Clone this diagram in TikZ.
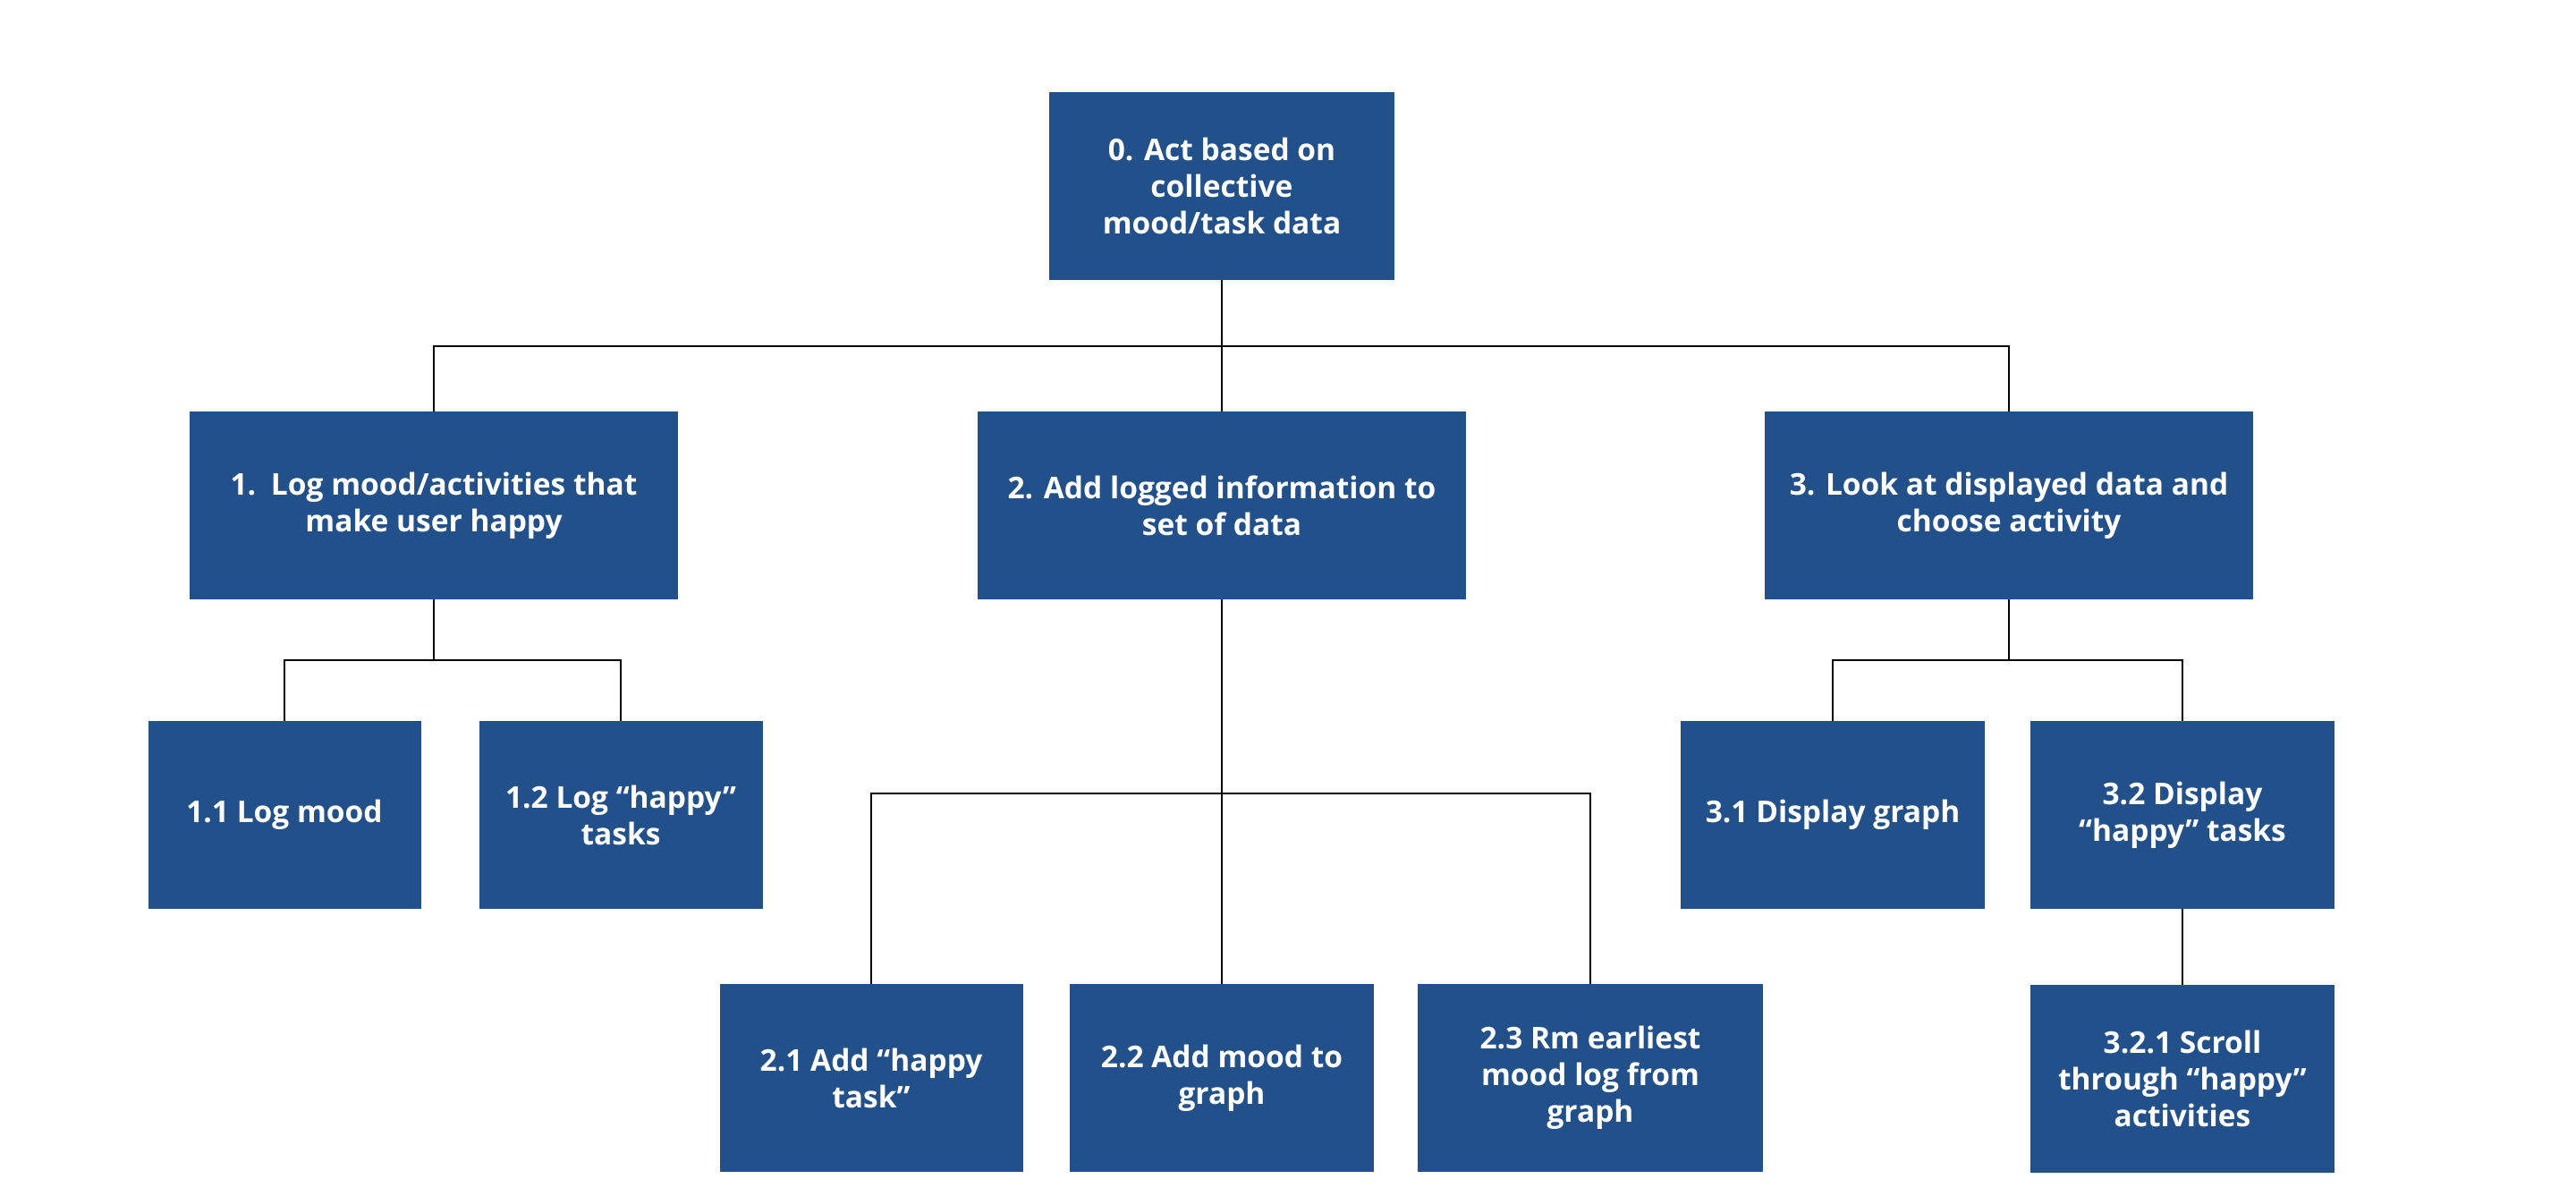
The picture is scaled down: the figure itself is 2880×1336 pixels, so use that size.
\documentclass[tikz,border=0pt]{standalone}
\usepackage{fontspec}
\setmainfont{Open Sans}
\definecolor{boxblue}{HTML}{22508A}
\begin{document}
\begin{tikzpicture}[x=1pt,y=-1pt,
  box/.style={fill=boxblue, draw=none, text=white, align=center, inner sep=0pt,
    font=\bfseries\fontsize{33.5}{41}\selectfont, minimum height=210pt},
  conn/.style={draw=black, line width=2.5pt}]
\useasboundingbox (0,0) rectangle (2880,1336);
% level 0
\node[box, minimum width=386pt] (n0) at (1366,208) {0. Act based on\\collective\\mood/task data};
% level 1
\node[box, minimum width=546pt] (n1) at (485,565) {1.\enspace Log mood/activities that\\make user happy};
\node[box, minimum width=546pt] (n2) at (1366,565) {2. Add logged information to\\set of data};
\node[box, minimum width=546pt] (n3) at (2246,565) {3. Look at displayed data and\\choose activity};
% level 2
\node[box, minimum width=305pt] (n11) at (318,911) {1.1 Log mood};
\node[box, minimum width=317pt] (n12) at (694,911) {1.2 Log “happy”\\tasks};
\node[box, minimum width=339pt] (n21) at (974,1205) {2.1 Add “happy\\task”};
\node[box, minimum width=340pt] (n22) at (1366,1205) {2.2 Add mood to\\graph};
\node[box, minimum width=386pt] (n23) at (1778,1205) {2.3 Rm earliest\\mood log from\\graph};
\node[box, minimum width=340pt] (n31) at (2049,911) {3.1 Display graph};
\node[box, minimum width=340pt] (n32) at (2440,911) {3.2 Display\\“happy” tasks};
\node[box, minimum width=340pt] (n321) at (2440,1206) {3.2.1 Scroll\\through “happy”\\activities};
% bus coordinates
\coordinate (bus0) at (1366,387);
\coordinate (bus1) at (485,738);
\coordinate (bus2) at (1366,887);
\coordinate (bus3) at (2246,738);
% connectors
\draw[conn] (n0.south) -- (n2.north);
\draw[conn] (n1.north) |- (bus0) -| (n3.north);
\draw[conn] (n1.south) -- (bus1);
\draw[conn] (n11.north) |- (bus1) -| (n12.north);
\draw[conn] (n2.south) -- (n22.north);
\draw[conn] (n21.north) |- (bus2) -| (n23.north);
\draw[conn] (n3.south) -- (bus3);
\draw[conn] (n31.north) |- (bus3) -| (n32.north);
\draw[conn] (n32.south) -- (n321.north);
\end{tikzpicture}
\end{document}
